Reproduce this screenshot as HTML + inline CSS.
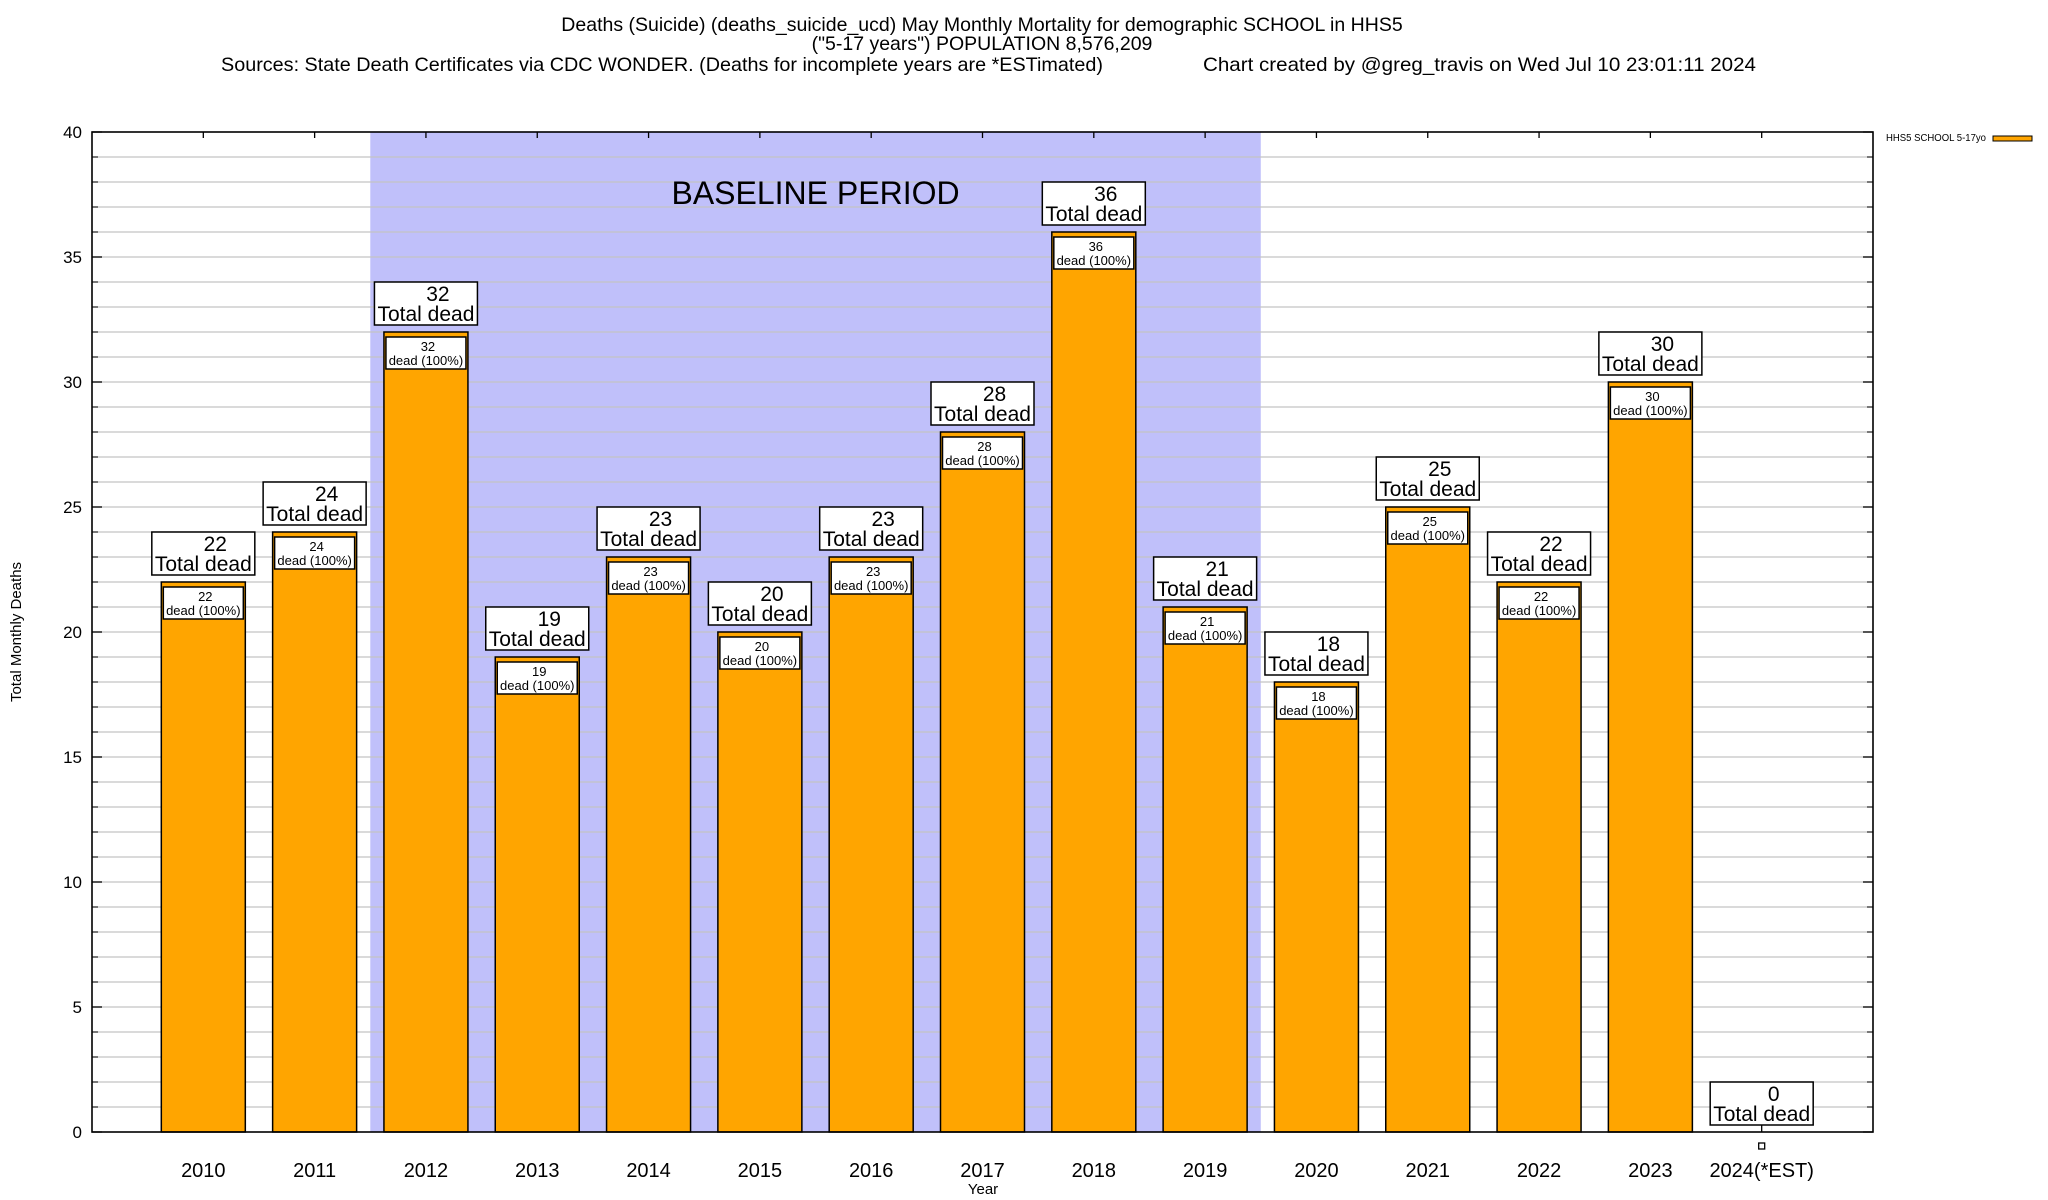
<!DOCTYPE html>
<html><head><meta charset="utf-8"><style>
html,body{margin:0;padding:0;background:#fff;}
svg{display:block;font-family:"Liberation Sans",Arial,sans-serif;}
</style></head><body>
<svg id="chart" width="2048" height="1200" viewBox="0 0 2048 1200" xmlns="http://www.w3.org/2000/svg">
<g id="titles">
<text x="982" y="31" font-size="19.5" text-anchor="middle">Deaths (Suicide) (deaths_suicide_ucd) May Monthly Mortality for demographic SCHOOL in HHS5</text>
<text x="982" y="50" font-size="19.5" text-anchor="middle">("5-17 years") POPULATION 8,576,209</text>
<text x="221" y="71" font-size="19.5" textLength="882" lengthAdjust="spacingAndGlyphs">Sources: State Death Certificates via CDC WONDER. (Deaths for incomplete years are *ESTimated)</text>
<text x="1203" y="71" font-size="19.5" textLength="553" lengthAdjust="spacingAndGlyphs">Chart created by @greg_travis on Wed Jul 10 23:01:11 2024</text>
</g>
<g id="plot"></g>
<text x="0" y="0" font-size="15" text-anchor="middle" transform="translate(21,632) rotate(-90)">Total Monthly Deaths</text>
<text x="983" y="1194" font-size="15" text-anchor="middle">Year</text>
<g>
<text x="1886" y="141" font-size="10" textLength="100" lengthAdjust="spacingAndGlyphs">HHS5 SCHOOL 5-17yo</text>
<rect x="1993" y="136" width="39" height="5" fill="#ffa500" stroke="#000" stroke-width="1"/>
</g>
</svg>
<script>
const categories = ["2010","2011","2012","2013","2014","2015","2016","2017","2018","2019","2020","2021","2022","2023","2024(*EST)"];
const deaths = [22,24,32,19,23,20,23,28,36,21,18,25,22,30,0];
const yTicks = [0,5,10,15,20,25,30,35,40];
const baselineStart = 2;
const baselineEnd = 9;

const NS="http://www.w3.org/2000/svg";
const L=92,R=1873,T=132,B=1132,yMax=40;
const step=(R-L)/16;
function xPos(i){return L+step*(i+1);}
function yPos(v){return B-(v/yMax)*(B-T);}
const g=document.getElementById('plot');
function mk(tag,attrs,parent){const e=document.createElementNS(NS,tag);for(const k in attrs)e.setAttribute(k,attrs[k]);(parent||g).appendChild(e);return e;}

const sh=mk('rect',{x:xPos(baselineStart)-step/2,y:T,width:step*(baselineEnd-baselineStart+1),height:B-T,fill:'#c0c0fa'});


for(let v=1;v<yMax;v++){
  const gl=mk('line',{x1:L,x2:R,y1:yPos(v),y2:yPos(v),stroke:'#c4c4c4','stroke-width':1.2});
  
  
  mk('line',{x1:L,x2:L+6,y1:yPos(v),y2:yPos(v),stroke:'#000','stroke-width':1});
  mk('line',{x1:R-6,x2:R,y1:yPos(v),y2:yPos(v),stroke:'#000','stroke-width':1});
}
const bt=mk('text',{x:(xPos(baselineStart)+xPos(baselineEnd))/2,y:204,'font-size':32,'text-anchor':'middle'});
bt.textContent='BASELINE PERIOD';


yTicks.forEach(v=>{
  const t=mk('text',{x:82,y:yPos(v)+6,'font-size':17,'text-anchor':'end'});
  t.textContent=v;
  
  
  mk('line',{x1:L,x2:L+10,y1:yPos(v),y2:yPos(v),stroke:'#000','stroke-width':1.3});
  mk('line',{x1:R-10,x2:R,y1:yPos(v),y2:yPos(v),stroke:'#000','stroke-width':1.3});
});
const bw=84;
categories.forEach((c,i)=>{
  const cx=xPos(i),v=deaths[i],yt=yPos(v);
  mk('line',{x1:cx,x2:cx,y1:T,y2:T+6,stroke:'#000','stroke-width':1.3});
  if(v>0){
    const b=mk('rect',{x:cx-bw/2,y:yt,width:bw,height:B-yt,fill:'#ffa500',stroke:'#000','stroke-width':1.5});
    
    
    const ib=mk('rect',{x:cx-bw/2+2,y:yt+5,width:bw-4,height:32,fill:'#fff',stroke:'#000','stroke-width':1.5});
    
    
    const t1=mk('text',{x:cx+2,y:yt+19,'font-size':13,'text-anchor':'middle'});t1.textContent=v;
    const t2=mk('text',{x:cx,y:yt+33,'font-size':13,'text-anchor':'middle'});t2.textContent='dead (100%)';
  } else {
    mk('line',{x1:cx,x2:cx,y1:B-8,y2:B,stroke:'#000','stroke-width':1.3});
    const m=mk('rect',{x:cx-3,y:B+11,width:6,height:6,fill:'#fff',stroke:'#000','stroke-width':1.3});
    
    
  }
  const by=yt-7-43;
  const lb=mk('rect',{x:cx-51.5,y:by,width:103,height:43,fill:'#fff',stroke:'#000','stroke-width':1.5});
  
  
  const n=mk('text',{x:cx+12,y:by+19,'font-size':21,'text-anchor':'middle'});n.textContent=v;
  const td=mk('text',{x:cx,y:by+39,'font-size':21,'text-anchor':'middle'});td.textContent='Total dead';
  const xl=mk('text',{x:cx,y:1177,'font-size':20,'text-anchor':'middle'});
  xl.textContent=c;
  
  
});
const fr=mk('rect',{x:L,y:T,width:R-L,height:B-T,fill:'none',stroke:'#000','stroke-width':1.6});


</script>
</body></html>
